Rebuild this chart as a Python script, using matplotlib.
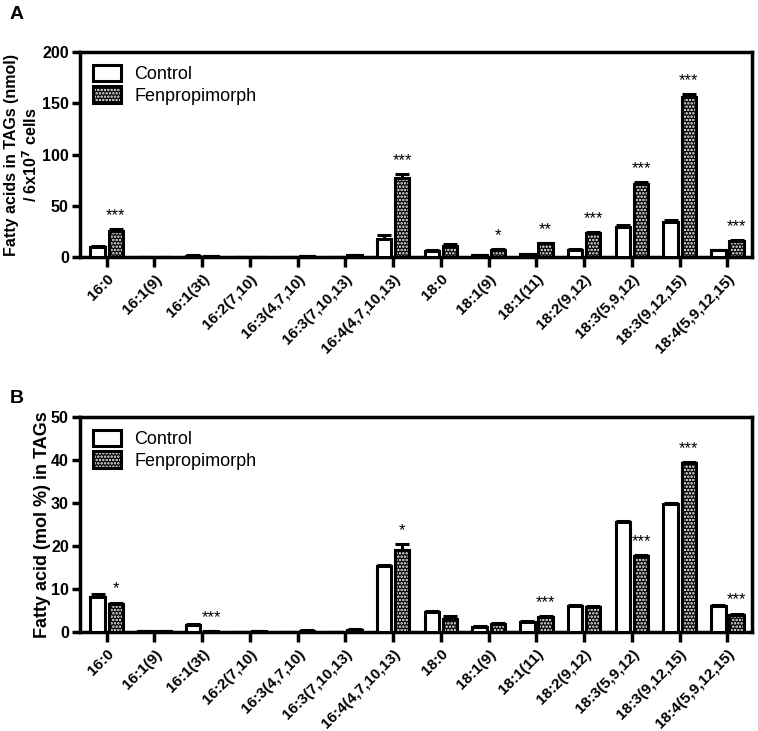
import numpy as np
import matplotlib
matplotlib.use('Agg')
import matplotlib.pyplot as plt
from matplotlib.patches import Patch

plt.rcParams['font.family'] = ['Liberation Sans', 'DejaVu Sans']
plt.rcParams['hatch.linewidth'] = 1.2

acids = ['16:0', '16:1(9)', '16:1(3t)', '16:2(7,10)', '16:3(4,7,10)', '16:3(7,10,13)',
         '16:4(4,7,10,13)', '18:0', '18:1(9)', '18:1(11)', '18:2(9,12)', '18:3(5,9,12)',
         '18:3(9,12,15)', '18:4(5,9,12,15)']

# panel A: nmol / 6x10^7 cells
ctrl_a = [10, 0.5, 1.5, 0.3, 0.5, 0.5, 18, 6, 2, 3, 7.5, 30, 34, 7]
ctrl_a_err = [0.8, 0.2, 0.3, 0.1, 0.2, 0.2, 4, 1.5, 0.4, 0.5, 0.8, 1.5, 2.5, 0.6]
fen_a = [26, 0.5, 0.8, 0.5, 0.8, 2.0, 77, 11.5, 7.5, 13.5, 23.5, 71, 156, 16]
fen_a_err = [1.2, 0.2, 0.2, 0.2, 0.2, 0.4, 4, 1.8, 0.8, 0.6, 0.8, 2, 3, 0.8]
stars_a = ['***', '', '', '', '', '', '***', '', '*', '**', '***', '***', '***', '***']

# panel B: mol %
ctrl_b = [8.3, 0.2, 1.7, 0.1, 0.1, 0.1, 15.4, 4.8, 1.3, 2.5, 6.1, 25.7, 29.8, 6.2]
ctrl_b_err = [0.5, 0.05, 0.15, 0.05, 0.05, 0.05, 0.2, 0.2, 0.1, 0.15, 0.15, 0.2, 0.3, 0.15]
fen_b = [6.6, 0.2, 0.2, 0.2, 0.4, 0.6, 19.2, 3.0, 2.0, 3.5, 5.9, 17.7, 39.2, 4.1]
fen_b_err = [0.3, 0.05, 0.05, 0.05, 0.05, 0.1, 1.3, 0.9, 0.2, 0.2, 0.1, 0.2, 0.3, 0.2]
stars_b = ['*', '', '***', '', '', '', '*', '', '', '***', '', '***', '***', '***']

fig = plt.figure(figsize=(7.58, 7.31), dpi=100)
ax_a = fig.add_axes([0.1055, 0.648, 0.887, 0.281])
ax_b = fig.add_axes([0.1055, 0.135, 0.887, 0.2946])

x = np.arange(len(acids))
w = 0.3
off = 0.19


def draw_panel(ax, ctrl, ctrl_err, fen, fen_err, stars, ymax, step, ylabel, ylsize,
               ylx, star_off):
    zeros = np.zeros(len(x))
    ax.bar(x - off, ctrl, w, color='white', edgecolor='black', linewidth=2.2, zorder=3)
    ax.errorbar(x - off, ctrl, yerr=[zeros, ctrl_err], fmt='none', ecolor='black',
                elinewidth=2.2, capsize=5, capthick=2.2, zorder=2)
    ax.bar(x + off, fen, w, color='black', edgecolor='white', hatch='.....',
           linewidth=0, zorder=3)
    ax.bar(x + off, fen, w, fill=False, edgecolor='black', linewidth=2.2, zorder=4)
    ax.errorbar(x + off, fen, yerr=[zeros, fen_err], fmt='none', ecolor='black',
                elinewidth=2.2, capsize=5, capthick=2.2, zorder=2)
    for i, s in enumerate(stars):
        if s:
            ax.text(x[i] + off, fen[i] + fen_err[i] + star_off, s, ha='center',
                    va='center', fontsize=12)

    ax.set_xlim(-0.56, 13.52)
    ax.set_ylim(0, ymax)
    ax.set_yticks(np.arange(0, ymax + 1, step))
    ax.set_xticks(x)
    ax.set_xticklabels(acids, rotation=45, ha='right', rotation_mode='anchor',
                       fontweight='bold', fontsize=11)
    for lbl in ax.get_yticklabels():
        lbl.set_fontweight('bold')
    ax.tick_params(axis='y', labelsize=11.5, width=2.5, length=6, pad=2)
    ax.tick_params(axis='x', width=2.5, length=7)
    for sp in ax.spines.values():
        sp.set_linewidth(2.5)
    ax.set_ylabel(ylabel, fontsize=ylsize, fontweight='bold', linespacing=1.15,
                  va='center')
    ax.yaxis.set_label_coords(ylx, 0.5)

    h_ctrl = Patch(facecolor='white', edgecolor='black', linewidth=2.2)
    h_fen1 = Patch(facecolor='black', edgecolor='white', hatch='.....', linewidth=0)
    h_fen2 = Patch(fill=False, edgecolor='black', linewidth=2.2)
    ax.legend([h_ctrl, (h_fen1, h_fen2)], ['Control', 'Fenpropimorph'], loc='upper left',
              frameon=False, fontsize=13, handlelength=1.6, handleheight=1.0,
              borderaxespad=0.3, labelspacing=0.2, handletextpad=0.7)


draw_panel(ax_a, ctrl_a, ctrl_a_err, fen_a, fen_a_err, stars_a, 200, 50,
           'Fatty acids in TAGs (nmol)\n/ 6x10$^\\mathbf{7}$ cells', 11.5, -0.086, 13)
draw_panel(ax_b, ctrl_b, ctrl_b_err, fen_b, fen_b_err, stars_b, 50, 10,
           'Fatty acid (mol %) in TAGs', 13, -0.055, 3.2)

fig.text(0.013, 0.98, 'A', fontsize=14, fontweight='bold', va='center')
fig.text(0.013, 0.455, 'B', fontsize=14, fontweight='bold', va='center')

fig.savefig('out.png', dpi=100)
